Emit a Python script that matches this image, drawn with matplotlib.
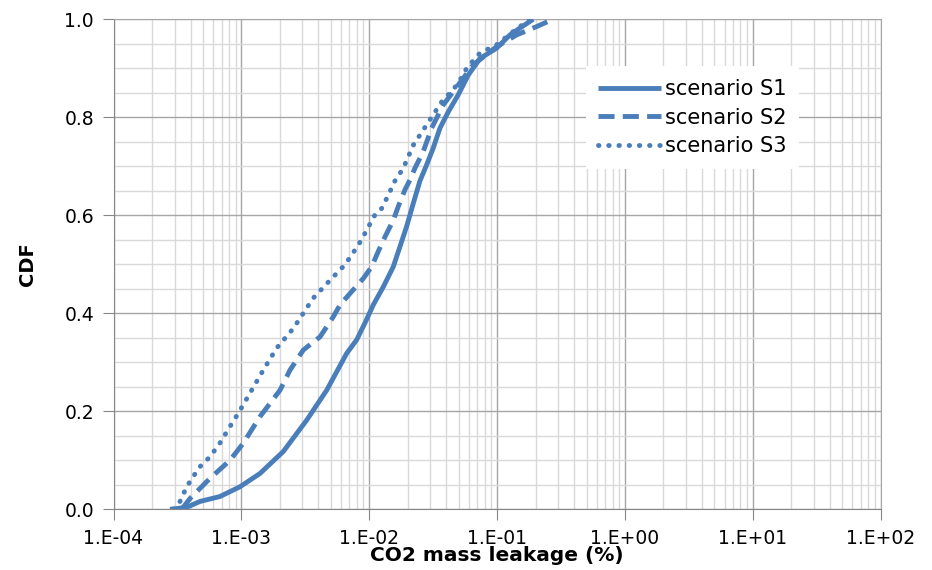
import math
import matplotlib
matplotlib.use("Agg")
import matplotlib.pyplot as plt
from matplotlib.ticker import FixedLocator, FuncFormatter, NullFormatter

# log10 of leakage (%) and CDF values
s1_lx = [-3.558, -3.428, -3.324, -3.168, -3.011, -2.855, -2.672, -2.489, -2.333, -2.177,
         -2.098, -2.034, -1.969, -1.890, -1.812, -1.760, -1.708, -1.656, -1.604, -1.551,
         -1.500, -1.447, -1.382, -1.304, -1.226, -1.134, -1.004, -0.900, -0.822, -0.718]
s1_y = [0.0, 0.004, 0.016, 0.026, 0.046, 0.073, 0.118, 0.182, 0.243, 0.318,
        0.346, 0.380, 0.417, 0.454, 0.495, 0.536, 0.577, 0.624, 0.670, 0.703,
        0.737, 0.778, 0.811, 0.846, 0.886, 0.920, 0.941, 0.968, 0.982, 1.0]

s2_lx = [-3.467, -3.402, -3.246, -3.089, -2.985, -2.855, -2.698, -2.620, -2.516, -2.385,
         -2.281, -2.229, -2.125, -2.047, -1.981, -1.930, -1.877, -1.812, -1.773, -1.721,
         -1.682, -1.643, -1.578, -1.512, -1.422, -1.304, -1.187, -1.004, -0.848, -0.692,
         -0.562]
s2_y = [0.0, 0.022, 0.063, 0.100, 0.135, 0.189, 0.243, 0.284, 0.325, 0.352,
        0.393, 0.417, 0.448, 0.471, 0.495, 0.526, 0.556, 0.590, 0.618, 0.652,
        0.672, 0.696, 0.730, 0.778, 0.825, 0.866, 0.907, 0.944, 0.968, 0.985,
        1.0]

s3_lx = [-3.532, -3.480, -3.428, -3.376, -3.324, -3.246, -3.168, -3.089, -3.024, -2.933,
         -2.829, -2.724, -2.594, -2.438, -2.294, -2.190, -2.112, -2.060, -2.020, -1.955,
         -1.903, -1.838, -1.812, -1.734, -1.656, -1.578, -1.500, -1.422, -1.343, -1.265,
         -1.239, -1.134, -1.004, -0.874, -0.769, -0.744]
s3_y = [0.0, 0.016, 0.046, 0.067, 0.087, 0.107, 0.135, 0.169, 0.196, 0.237,
        0.284, 0.329, 0.369, 0.431, 0.471, 0.499, 0.529, 0.550, 0.570, 0.601,
        0.614, 0.648, 0.665, 0.696, 0.743, 0.774, 0.805, 0.836, 0.856, 0.886,
        0.900, 0.931, 0.948, 0.975, 0.995, 1.0]

labels = ["scenario S1", "scenario S2", "scenario S3"]
decades = [-4, -3, -2, -1, 0, 1, 2]
blue = "#4A7EBB"

fig = plt.figure(figsize=(9.32, 5.7), dpi=100)
ax = fig.add_axes([0.1218, 0.1065, 0.8232, 0.8597])

lw = 3.5
ax.plot([10 ** v for v in s1_lx], s1_y, color=blue, lw=lw, ls="-", label=labels[0],
        solid_capstyle="butt", solid_joinstyle="round", zorder=3)
ax.plot([10 ** v for v in s2_lx], s2_y, color=blue, lw=lw, ls=(0, (3.3, 1.7)), label=labels[1],
        dash_capstyle="butt", zorder=3)
ax.plot([10 ** v for v in s3_lx], s3_y, color=blue, lw=lw, ls=(0, (0.1, 2.0)), label=labels[2],
        dash_capstyle="round", zorder=3)

ax.set_xscale("log")
ax.set_xlim(1e-4, 1e2)
ax.set_ylim(0, 1)

major_x = [10.0 ** d for d in decades]
minor_x = [k * 10.0 ** d for d in decades[:-1] for k in range(2, 10)]
ax.xaxis.set_major_locator(FixedLocator(major_x))
ax.xaxis.set_minor_locator(FixedLocator(minor_x))
ax.xaxis.set_minor_formatter(NullFormatter())
ax.xaxis.set_major_formatter(FuncFormatter(lambda v, p: "1.E%+03d" % round(math.log10(v))))
ax.yaxis.set_major_locator(FixedLocator([0, 0.2, 0.4, 0.6, 0.8, 1.0]))
ax.yaxis.set_minor_locator(FixedLocator([i * 0.05 for i in range(21)]))
ax.yaxis.set_minor_formatter(NullFormatter())
ax.yaxis.set_major_formatter(FuncFormatter(lambda v, p: "%.1f" % v))

ax.grid(which="major", color="#a6a6a6", lw=1.0)
ax.grid(which="minor", color="#d9d9d9", lw=1.0)
ax.set_axisbelow(True)

for s in ["left", "bottom"]:
    ax.spines[s].set_color("#868686")
for s in ["top", "right"]:
    ax.spines[s].set_color("#a6a6a6")

ax.tick_params(which="major", direction="out", length=8, color="#868686",
               labelsize=13.5, pad=6)
ax.tick_params(which="minor", length=0)
ax.tick_params(axis="x", pad=6)

ax.set_xlabel("CO2 mass leakage (%)", fontsize=14.5, fontweight="bold", labelpad=-1)
ax.set_ylabel("CDF", fontsize=14, fontweight="bold", labelpad=20)

leg = ax.legend(loc="upper left", bbox_to_anchor=(0.602, 0.925), frameon=True,
                fancybox=False, framealpha=1, edgecolor="white", fontsize=15,
                handlelength=3.0, handletextpad=0.2, borderpad=0.6, labelspacing=0.42)
leg.get_frame().set_linewidth(0)

fig.savefig("out.png", dpi=100)
